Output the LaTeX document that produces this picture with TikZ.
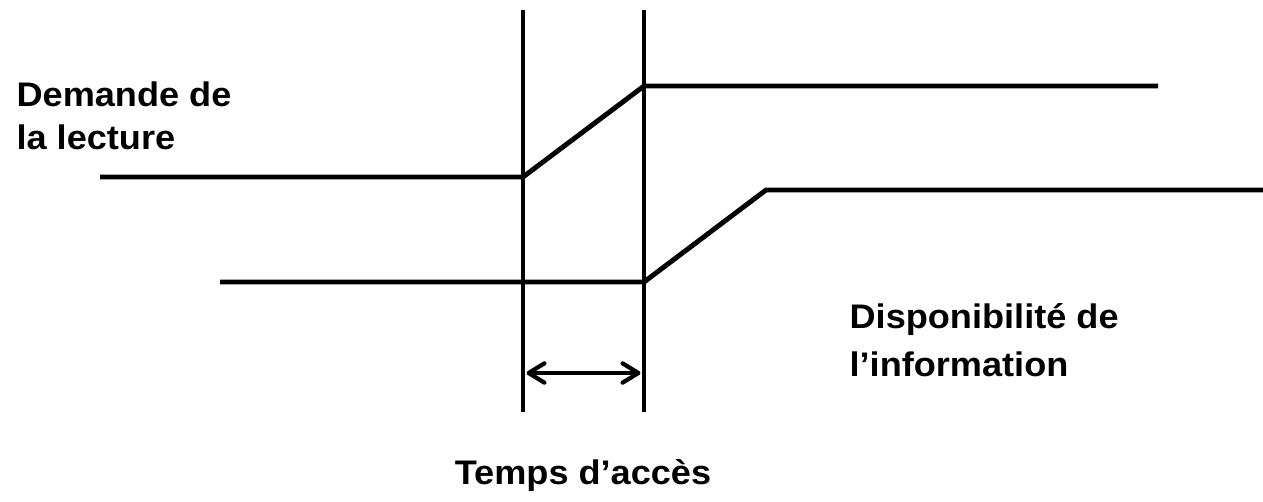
\documentclass[tikz,border=0pt]{standalone}
\usepackage{fontspec}
\setmainfont{Liberation Sans}
\usetikzlibrary{arrows.meta}

\begin{document}
\begin{tikzpicture}[x=0.02cm, y=-0.02cm, line width=2.8pt,
  sigtext/.style={font=\bfseries\fontsize{19.4}{24.4}\selectfont, align=left,
    inner sep=0pt, anchor=north west, xscale=1.06, transform shape}]
\useasboundingbox (0,0) rectangle (1263,501);

% the two time marks
\coordinate (t1top) at (523,10);
\coordinate (t1bot) at (523,412);
\coordinate (t2top) at (644,10);
\coordinate (t2bot) at (644,412);
\draw (t1top) -- (t1bot);
\draw (t2top) -- (t2bot);

% read request
\coordinate (req0) at (100,177);
\coordinate (req1) at (523,177);
\coordinate (req2) at (644,86);
\coordinate (req3) at (1158,86);
\draw (req0) -- (req1) -- (req2) -- (req3);

% data available
\coordinate (dat0) at (220,282);
\coordinate (dat1) at (644,282);
\coordinate (dat2) at (766,190);
\coordinate (dat3) at (1263,190);
\draw (dat0) -- (dat1) -- (dat2) -- (dat3);

% access time
\coordinate (acc1) at (523,373);
\coordinate (acc2) at (644,373);
\draw [line width=2.4pt, line cap=round,
  {Straight Barb[length=9pt, width=11pt, round]}-{Straight Barb[length=9pt, width=11pt, round]},
  shorten <=2pt, shorten >=2pt] (acc1) -- (acc2);

\node [sigtext] (reqtext) at (14,79) {Demande de\\la lecture};
\node [sigtext, font=\bfseries\fontsize{19.4}{27.3}\selectfont] (dattext) at (847,301) {Disponibilité de\\l’information};
\node [sigtext, anchor=base] (acctext) at (583,484) {Temps d’accès};
\end{tikzpicture}
\end{document}
